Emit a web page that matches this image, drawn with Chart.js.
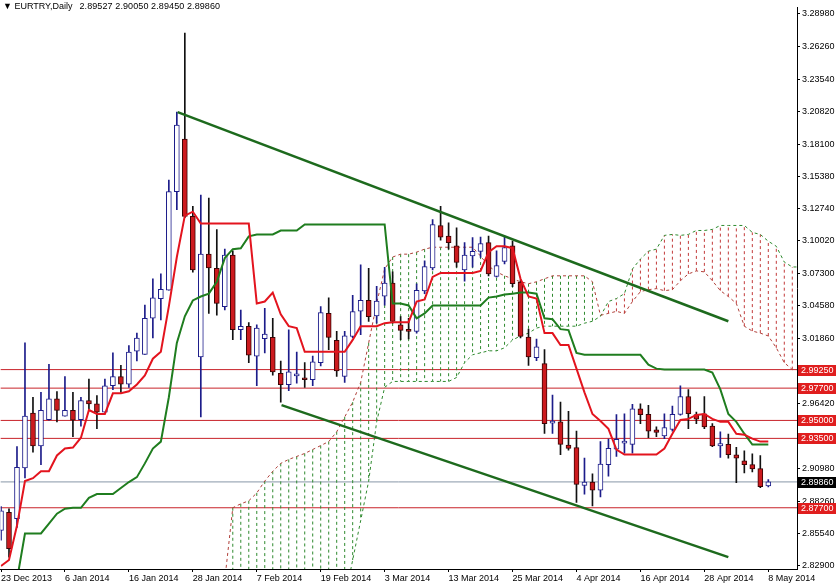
<!DOCTYPE html>
<html lang="en">
<head>
<meta charset="UTF-8">
<title>EURTRY, Daily</title>
<script src="https://cdn.jsdelivr.net/npm/chart.js"></script>
<style>
    body { margin: 0; background: #fff; }
    .wrap { position: relative; width: 836px; height: 585px; }
    .head {
        position: absolute; left: 3px; top: 1px;
        font: 9px "Liberation Sans", sans-serif; color: #000; white-space: pre;
    }
    .head .ohlc { margin-left: 7px; letter-spacing: 0.1px; }
</style>
</head>
<body>
<div class="wrap">
    <canvas id="chart" width="836" height="585"></canvas>
    <div class="head">▼ EURTRY,Daily<span class="ohlc">2.89527 2.90050 2.89450 2.89860</span></div>
</div>
<script>
// x axis: one label every 8 daily bars
const dateLabels = ['23 Dec 2013', '6 Jan 2014', '16 Jan 2014', '28 Jan 2014', '7 Feb 2014', '19 Feb 2014',
    '3 Mar 2014', '13 Mar 2014', '25 Mar 2014', '4 Apr 2014', '16 Apr 2014', '28 Apr 2014', '8 May 2014'];
const dateBars = [0, 8, 16, 24, 32, 40, 48, 56, 64, 72, 80, 88, 96];

const priceTicks = [3.2898, 3.2626, 3.2354, 3.2082, 3.1810, 3.1538, 3.1274, 3.1002, 3.0730, 3.0458,
    3.0186, 2.9642, 2.9098, 2.8826, 2.8554, 2.8290];

// candles
const opens = [2.8580, 2.8731, 2.8679, 2.9102, 2.9562, 2.9287, 2.9507, 2.9680, 2.9535, 2.9584,
    2.9507, 2.9667, 2.9639, 2.9570, 2.9790, 2.9867, 2.9804, 3.0079, 3.0051, 3.0354,
    3.0519, 3.0588, 3.1413, 3.1853, 3.1206, 3.0030, 3.0890, 3.0772, 3.0451, 3.0882,
    3.0258, 3.0286, 3.0038, 3.0183, 3.0195, 2.9894, 2.9799, 2.9873, 2.9853, 2.9840,
    2.9983, 3.0395, 3.0170, 2.9867, 3.0203, 3.0414, 3.0505, 3.0373, 3.0538, 3.0649,
    3.0299, 3.0258, 3.0244, 3.0583, 3.0775, 3.1130, 3.1041, 3.0959, 3.0758, 3.0876,
    3.0913, 3.0987, 3.0703, 3.0830, 3.0959, 3.0657, 3.0197, 3.0024, 2.9975, 2.9478,
    2.9488, 2.9295, 2.9273, 2.8957, 2.8984, 2.8916, 2.9130, 2.9259, 2.9310, 2.9300,
    2.9597, 2.9551, 2.9422, 2.9370, 2.9424, 2.9551, 2.9700, 2.9548, 2.9556, 2.9452,
    2.9287, 2.9300, 2.9213, 2.9163, 2.9130, 2.9097, 2.89527];
const highs = [2.8780, 2.8762, 2.9281, 3.0148, 2.9694, 2.9735, 2.9969, 2.9741, 2.9867, 2.9735,
    2.9694, 2.9845, 2.9708, 2.9845, 3.0065, 2.9960, 3.0125, 3.0230, 3.0464, 3.0684,
    3.0725, 3.1509, 3.2078, 3.2739, 3.1289, 3.1385, 3.1358, 3.1096, 3.0932, 3.0918,
    3.0423, 3.0319, 3.0299, 3.0437, 3.0354, 2.9997, 3.0258, 3.0071, 2.9983, 3.0038,
    3.0451, 3.0525, 3.0244, 3.0244, 3.0546, 3.0800, 3.0772, 3.0621, 3.0781, 3.0742,
    3.0368, 3.0354, 3.0643, 3.0835, 3.1179, 3.1289, 3.1152, 3.1111, 3.0987, 3.1028,
    3.1033, 3.1041, 3.0918, 3.1041, 3.1000, 3.0676, 3.0263, 3.0181, 3.0092, 2.9713,
    2.9653, 2.9576, 2.9411, 2.9185, 2.9053, 2.9323, 2.9345, 2.9548, 2.9556, 2.9634,
    2.9639, 2.9626, 2.9446, 2.9556, 2.9620, 2.9790, 2.9758, 2.9570, 2.9700, 2.9474,
    2.9405, 2.9386, 2.9276, 2.9246, 2.9221, 2.9207, 2.90050];
const lows = [2.8500, 2.8357, 2.8605, 2.9020, 2.9234, 2.9130, 2.9502, 2.9488, 2.9535, 2.9364,
    2.9452, 2.9597, 2.9432, 2.9570, 2.9758, 2.9735, 2.9776, 2.9997, 3.0051, 3.0189,
    3.0340, 3.0588, 3.1262, 3.1196, 3.0739, 2.9529, 3.0395, 3.0381, 3.0423, 3.0175,
    3.0175, 2.9983, 2.9790, 3.0065, 2.9878, 2.9653, 2.9749, 2.9812, 2.9777, 2.9790,
    2.9956, 3.0092, 2.9867, 2.9818, 3.0189, 3.0216, 3.0327, 3.0313, 3.0464, 3.0313,
    3.0175, 3.0181, 3.0230, 3.0560, 3.0758, 3.1006, 3.0932, 3.0781, 3.0665, 3.0781,
    3.0863, 3.0709, 3.0698, 3.0808, 3.0618, 3.0189, 2.9960, 2.9999, 2.9391, 2.9391,
    2.9213, 2.9251, 2.8814, 2.8883, 2.8786, 2.8861, 2.9034, 2.9199, 2.9226, 2.9226,
    2.9474, 2.9356, 2.9364, 2.9347, 2.9411, 2.9545, 2.9432, 2.9474, 2.9432, 2.9281,
    2.9191, 2.9185, 2.8979, 2.9061, 2.9069, 2.8937, 2.89450];
const closes = [2.8745, 2.8429, 2.9108, 2.9537, 2.9287, 2.9584, 2.9680, 2.9584, 2.9584, 2.9502,
    2.9667, 2.9639, 2.9570, 2.9790, 2.9867, 2.9804, 3.0071, 3.0189, 3.0354, 3.0525,
    3.0596, 3.1413, 3.1969, 3.1206, 3.0758, 3.0890, 3.0775, 3.0478, 3.0882, 3.0258,
    3.0286, 3.0046, 3.0272, 3.0222, 2.9906, 2.9799, 2.9906, 2.9876, 2.9840, 2.9989,
    3.0401, 3.0195, 2.9914, 3.0208, 3.0409, 3.0505, 3.0368, 3.0497, 3.0649, 3.0327,
    3.0253, 3.0245, 3.0587, 3.0786, 3.1138, 3.1033, 3.0987, 3.0822, 3.0882, 3.0913,
    3.0979, 3.0725, 3.0794, 3.0946, 3.0643, 3.0203, 3.0032, 3.0115, 2.9474, 2.9482,
    2.9300, 2.9267, 2.8965, 2.8984, 2.8916, 2.9135, 2.9267, 2.9342, 2.9313, 2.9597,
    2.9548, 2.9411, 2.9400, 2.9441, 2.9551, 2.9700, 2.9556, 2.9510, 2.9446, 2.9287,
    2.9306, 2.9213, 2.9185, 2.9130, 2.9094, 2.8946, 2.89860];

// Ichimoku: tenkan-sen (red) and kijun-sen (green), one value per bar
const tenkan = [2.8283, 2.8333, 2.8621, 2.8993, 2.9017, 2.9075, 2.9075, 2.9207, 2.9265, 2.9273,
    2.9356, 2.9587, 2.9554, 2.9554, 2.9727, 2.9727, 2.9744, 2.9801, 2.9876, 3.0016,
    3.0074, 3.0453, 3.0866, 3.1212, 3.1245, 3.1146, 3.1146, 3.1146, 3.1146, 3.1146,
    3.1146, 3.1146, 3.0478, 3.0494, 3.0569, 3.0387, 3.0288, 3.0272, 3.0074, 3.0074,
    3.0074, 3.0074, 3.0074, 3.0074, 3.0173, 3.0288, 3.0288, 3.0288, 3.0313, 3.0321,
    3.0321, 3.0321, 3.0494, 3.0511, 3.0700, 3.0733, 3.0733, 3.0733, 3.0733, 3.0733,
    3.0750, 3.0907, 3.0956, 3.0956, 3.0940, 3.0684, 3.0536, 3.0519, 3.0230, 3.0230,
    3.0131, 3.0131, 2.9933, 2.9735, 2.9554, 2.9496, 2.9430, 2.9257, 2.9215, 2.9215,
    2.9215, 2.9215, 2.9215, 2.9265, 2.9389, 2.9504, 2.9513, 2.9546, 2.9554, 2.9513,
    2.9488, 2.9488, 2.9389, 2.9381, 2.9348, 2.9323, 2.9323];
const kijun = [2.8003, 2.8003, 2.8168, 2.8555, 2.8555, 2.8555, 2.8638, 2.8720, 2.8762, 2.8770,
    2.8770, 2.8853, 2.8885, 2.8885, 2.8885, 2.8935, 2.8985, 2.9026, 2.9141, 2.9265,
    2.9323, 2.9694, 3.0148, 3.0371, 3.0503, 3.0536, 3.0560, 3.0659, 3.0857, 3.0932,
    3.0940, 3.1039, 3.1055, 3.1055, 3.1055, 3.1088, 3.1088, 3.1088, 3.1138, 3.1138,
    3.1138, 3.1138, 3.1138, 3.1138, 3.1138, 3.1138, 3.1138, 3.1138, 3.1138, 3.0478,
    3.0478, 3.0461, 3.0354, 3.0395, 3.0461, 3.0461, 3.0461, 3.0461, 3.0461, 3.0461,
    3.0461, 3.0527, 3.0536, 3.0552, 3.0560, 3.0569, 3.0569, 3.0560, 3.0354, 3.0346,
    3.0263, 3.0255, 3.0065, 3.0049, 3.0049, 3.0049, 3.0049, 3.0049, 3.0049, 3.0049,
    3.0049, 2.9966, 2.9933, 2.9925, 2.9925, 2.9925, 2.9925, 2.9925, 2.9925, 2.9900,
    2.9760, 2.9554, 2.9488, 2.9389, 2.9298, 2.9298, 2.9298];

// cloud edges, starting at bar 28 and running 4 bars past the last candle
const cloudStart = 28;
const spanA = [2.8168, 2.8770, 2.8803, 2.8828, 2.8894, 2.8993, 2.9075, 2.9141, 2.9174, 2.9199,
    2.9224, 2.9257, 2.9290, 2.9323, 2.9405, 2.9529, 2.9653, 2.9818, 3.0148, 3.0478,
    3.0766, 3.0866, 3.0890, 3.0890, 3.0907, 3.0932, 3.0948, 3.0948, 3.0948, 3.0948,
    3.0948, 3.0948, 3.0874, 3.0791, 3.0742, 3.0709, 3.0684, 3.0659, 3.0643, 3.0659,
    3.0684, 3.0709, 3.0709, 3.0709, 3.0709, 3.0709, 3.0659, 3.0379, 3.0395, 3.0412,
    3.0395, 3.0494, 3.0577, 3.0593, 3.0602, 3.0585, 3.0593, 3.0668, 3.0725, 3.0750,
    3.0742, 3.0668, 3.0585, 3.0536, 3.0478, 3.0288, 3.0247, 3.0230, 3.0206, 3.0107,
    2.9983, 2.9925, 2.9925];
const spanB = [2.8003, 2.8003, 2.8003, 2.8003, 2.8003, 2.8003, 2.8003, 2.8003, 2.8003, 2.8003,
    2.8003, 2.8003, 2.8003, 2.8003, 2.8003, 2.8003, 2.8333, 2.8663, 2.8993, 2.9488,
    2.9777, 2.9826, 2.9826, 2.9826, 2.9826, 2.9826, 2.9826, 2.9826, 2.9826, 2.9859,
    2.9983, 3.0049, 3.0065, 3.0082, 3.0082, 3.0107, 3.0173, 3.0206, 3.0230, 3.0272,
    3.0288, 3.0288, 3.0288, 3.0288, 3.0288, 3.0313, 3.0329, 3.0371, 3.0494, 3.0519,
    3.0560, 3.0766, 3.0849, 3.0915, 3.0932, 3.1047, 3.1055, 3.1047, 3.1055, 3.1088,
    3.1088, 3.1097, 3.1130, 3.1130, 3.1130, 3.1130, 3.1072, 3.1055, 3.0998, 3.0956,
    3.0824, 3.0783, 3.0783];

// hand drawn channel
const trendUpper = [[22.1, 3.2078], [91, 3.0329]];
const trendLower = [[35.1, 2.9628], [91, 2.8357]];

// horizontal levels and last price
const levels = [2.9925, 2.9770, 2.9500, 2.9350, 2.8770];
const lastPrice = 2.8986;

const xMin = -0.04, xMax = 99.59;
const yMin = 2.8258, yMax = 3.2953;

const up = i => closes[i] >= opens[i];
const idx = opens.map((o, i) => i);

function wicks(bull) {
    return idx.filter(i => up(i) === bull).map(i => ({x: i, y: [lows[i], highs[i]]}));
}
function bodies(bull) {
    return idx.filter(i => up(i) === bull).map(i => ({x: i, y: [opens[i], closes[i]]}));
}
function hatch(green) {
    const pts = [];
    spanA.forEach((a, k) => {
        const b = spanB[k];
        if ((a > b) === green) {
            const x = cloudStart + k;
            pts.push({x: x, y: a}, {x: x, y: b}, {x: x, y: null});
        }
    });
    return pts;
}
function line(data, color, width, order, dash) {
    return {
        type: 'line', data: data, borderColor: color, borderWidth: width, borderDash: dash || [],
        pointRadius: 0, fill: false, tension: 0, spanGaps: false, order: order
    };
}

const datasets = [];
levels.forEach(l => datasets.push(line([{x: xMin - 1, y: l}, {x: xMax + 1, y: l}], '#c8232a', 1, 20)));
datasets.push(line([{x: xMin - 1, y: lastPrice}, {x: xMax + 1, y: lastPrice}], '#8796a8', 1, 20));
datasets.push(line(hatch(true), '#2f8a2f', 1, 18, [3, 3]));
datasets.push(line(hatch(false), '#c23a3a', 1, 18, [3, 3]));
datasets.push(line(spanA.map((v, k) => ({x: cloudStart + k, y: v})), '#b0403a', 1, 17, [3, 3]));
datasets.push(line(spanB.map((v, k) => ({x: cloudStart + k, y: v})), '#2f8a2f', 1, 17, [3, 3]));

datasets.push({type: 'bar', data: wicks(true), backgroundColor: '#1c1c8a', barThickness: 1, grouped: false, order: 12});
datasets.push({type: 'bar', data: wicks(false), backgroundColor: '#111', barThickness: 1, grouped: false, order: 12});
datasets.push({type: 'bar', data: bodies(true), backgroundColor: '#fff', borderColor: '#1c1c8a', borderWidth: 1,
    borderSkipped: false, barThickness: 5, minBarLength: 2, grouped: false, order: 11});
datasets.push({type: 'bar', data: bodies(false), backgroundColor: '#cc1a1e', borderColor: '#3a0505', borderWidth: 1,
    borderSkipped: false, barThickness: 5, minBarLength: 2, grouped: false, order: 11});

datasets.push(line(kijun.map((v, i) => ({x: i, y: v})), '#1f7d1f', 2, 6));
datasets.push(line(tenkan.map((v, i) => ({x: i, y: v})), '#e3141e', 2, 5));
datasets.push(line(trendUpper.map(p => ({x: p[0], y: p[1]})), '#1d6a1d', 2.5, 2));
datasets.push(line(trendLower.map(p => ({x: p[0], y: p[1]})), '#1d6a1d', 2.5, 2));

const axisBoxes = {
    id: 'axisBoxes',
    afterDraw(chart) {
        const {ctx, chartArea} = chart;
        const y = chart.scales.y;
        ctx.save();
        ctx.font = '9px "Liberation Sans", sans-serif';
        ctx.textBaseline = 'middle';
        const box = (v, bg) => {
            const py = Math.round(y.getPixelForValue(v));
            ctx.fillStyle = bg;
            ctx.fillRect(chartArea.right + 1, py - 5, 40, 11);
            ctx.fillStyle = '#fff';
            ctx.fillText(v.toFixed(5), chartArea.right + 4, py + 1);
        };
        levels.forEach(v => box(v, '#e01e1e'));
        box(lastPrice, '#000');
        ctx.restore();
    }
};

Chart.defaults.font.family = '"Liberation Sans", sans-serif';
Chart.defaults.font.size = 9;
Chart.defaults.color = '#000';

new Chart(document.getElementById('chart'), {
    type: 'bar',
    data: {datasets: datasets},
    options: {
        responsive: false,
        animation: false,
        devicePixelRatio: 1,
        layout: {padding: 0},
        plugins: {legend: {display: false}, tooltip: {enabled: false}},
        scales: {
            x: {
                type: 'linear', min: xMin, max: xMax, offset: false,
                grid: {offset: false, drawOnChartArea: false, tickLength: 3, color: '#000'},
                border: {color: '#000'},
                afterBuildTicks: s => { s.ticks = dateBars.map(v => ({value: v})); },
                afterFit: s => { s.height = 16; },
                ticks: {align: 'start', autoSkip: false, maxRotation: 0, padding: 1,
                    callback: (v, i) => dateLabels[i]}
            },
            y: {
                type: 'linear', position: 'right', min: yMin, max: yMax,
                grid: {drawOnChartArea: false, tickLength: 3, color: '#000'},
                border: {color: '#000'},
                afterBuildTicks: s => { s.ticks = priceTicks.map(v => ({value: v})); },
                afterFit: s => { s.width = 39; },
                ticks: {padding: 2, callback: v => v.toFixed(5)}
            }
        }
    },
    plugins: [axisBoxes]
});
</script>
</body>
</html>
